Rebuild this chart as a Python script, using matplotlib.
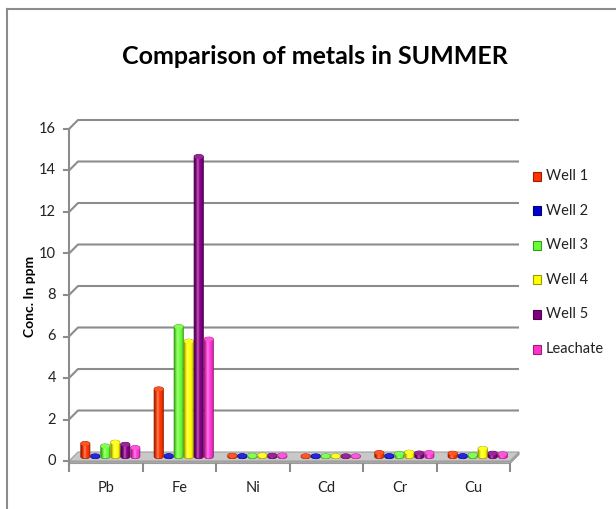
import matplotlib
matplotlib.use("Agg")
import matplotlib.pyplot as plt
import numpy as np
from matplotlib.patches import Polygon, PathPatch, Ellipse, Rectangle
from matplotlib.path import Path
from matplotlib.lines import Line2D
from matplotlib.colors import to_rgb

# metal concentrations (ppm), summer sampling
metals = ["Pb", "Fe", "Ni", "Cd", "Cr", "Cu"]
sites = ["Well 1", "Well 2", "Well 3", "Well 4", "Well 5", "Leachate"]
well1 = [0.62, 3.25, 0.05, 0.02, 0.18, 0.15]
well2 = [0.02, 0.03, 0.03, 0.02, 0.03, 0.03]
well3 = [0.50, 6.25, 0.05, 0.02, 0.13, 0.08]
well4 = [0.68, 5.55, 0.06, 0.02, 0.20, 0.38]
well5 = [0.58, 14.45, 0.05, 0.02, 0.16, 0.15]
leachate = [0.42, 5.65, 0.06, 0.02, 0.18, 0.12]
yticks = [0, 2, 4, 6, 8, 10, 12, 14, 16]

series = [well1, well2, well3, well4, well5, leachate]
colors = ["#ff3300", "#0000cc", "#66ff33", "#ffff00", "#800080", "#ff33cc"]

plt.rcParams["font.family"] = ["Lato", "DejaVu Sans"]

W, H = 616, 509
fig = plt.figure(figsize=(W / 100, H / 100), dpi=100)


def fx(x):
    return x / W


def fy(y):
    return 1 - y / H


# plot area in pixels: left 69, right 519, top 120, floor front at 461
ax = fig.add_axes([fx(69), fy(461), 450 / W, 341 / H])
ax.set_axis_off()

px_x = 450 / (len(metals) + 9 / 73.5)
px_y = 341 / (16 + 9 / 20.75)
dx = 9 / px_x      # depth of the 3d box in data units
dy = 9 / px_y
ncat = len(metals)
grid_c = "#8c8c8c"

# back wall gridlines with the little diagonal from the front axis
for v in yticks[1:]:
    ax.plot([0, dx, ncat + dx], [v, v + dy, v + dy], color=grid_c, lw=1.5,
            clip_on=False, solid_capstyle="butt")

# floor slab
slab = 2.5 / px_y
ax.add_patch(Polygon([[0, 0], [ncat, 0], [ncat + dx, dy], [ncat + dx, dy - slab],
                      [ncat, -slab], [0, -slab]],
                     closed=True, fc="#a8a8a8", ec="#9a9a9a", lw=0.8, clip_on=False,
                     zorder=1.9))
ax.add_patch(Polygon([[0, 0], [ncat, 0], [ncat + dx, dy], [dx, dy]],
                     closed=True, fc="#c8c8c8", ec="#a0a0a0", lw=0.8, clip_on=False,
                     zorder=2))

# front value axis and ticks
ax.plot([0, 0], [-slab, 16], color=grid_c, lw=1.5, clip_on=False)
for v in yticks:
    ax.plot([-5 / px_x, 0], [v, v], color=grid_c, lw=1.5, clip_on=False)
    ax.text(-13 / px_x, v, str(v), ha="right", va="center", fontsize=10.5,
            color="#222222")

# category ticks and labels
for i in range(ncat + 1):
    ax.plot([i, i], [-slab, -slab - 7 / px_y], color=grid_c, lw=1.5, clip_on=False)
for i, m in enumerate(metals):
    ax.text(i + 0.5, -27 / px_y, m, ha="center", va="center", fontsize=10.5,
            color="#222222")


def shaded(rgb, n=32):
    # horizontal cylinder shading: dark rim, bright band left of centre
    t = np.linspace(0, 1, n)
    prof = 0.55 + 0.55 * np.sin(np.pi * t) ** 0.8
    glow = np.exp(-((t - 0.38) / 0.12) ** 2) * 0.35
    base = np.array(rgb)
    img = base[None, :] * prof[:, None]
    img = img + (1 - img) * glow[:, None]
    return np.clip(img, 0, 1)[None, :, :]


bw = 9.4 / px_x
step = 10 / px_x
eh = 4.5 / px_y   # ellipse height of the cylinder caps
ox, oy = dx / 2, dy / 2
for k, vals in enumerate(series):
    rgb = to_rgb(colors[k])
    for i, v in enumerate(vals):
        cx = i + 0.5 + ox + (k - 2.5) * step
        x0, x1 = cx - bw / 2, cx + bw / 2
        y0, y1 = oy, oy + v
        th = np.linspace(np.pi, 2 * np.pi, 20)
        bot = np.column_stack([cx + bw / 2 * np.cos(th), y0 + eh / 2 * np.sin(th)])
        th2 = np.linspace(0, np.pi, 20)
        top = np.column_stack([cx + bw / 2 * np.cos(th2), y1 + eh / 2 * np.sin(th2)])
        verts = np.vstack([bot, top, bot[:1]])
        path = Path(verts)
        clip = PathPatch(path, transform=ax.transData, fc="none", ec="none")
        im = ax.imshow(shaded(rgb), extent=[x0, x1, y0 - eh, y1 + eh],
                       aspect="auto", zorder=3 + k * 0.01, interpolation="bilinear")
        im.set_clip_path(clip)
        ax.add_patch(PathPatch(path, fc="none", ec=tuple(c * 0.6 for c in rgb),
                               lw=0.5, zorder=3.05 + k * 0.01))
        cap = tuple(np.clip(np.array(rgb) * 0.9 + 0.15, 0, 1))
        ax.add_patch(Ellipse((cx, y1), bw * 0.95, eh, fc=cap, ec="none",
                             zorder=3.06 + k * 0.01))

ax.set_xlim(0, ncat + dx)
ax.set_ylim(0, 16 + dy)

# legend
for k, name in enumerate(sites):
    yc = 176 + k * 34.6
    rgb = to_rgb(colors[k])
    fig.add_artist(Rectangle((fx(533), fy(yc + 4.5)), 8 / W, 9 / H,
                             fc=rgb, ec=tuple(c * 0.6 for c in rgb), lw=0.8))
    fig.text(fx(546), fy(yc), name, ha="left", va="center", fontsize=10.5,
             color="#222222")

fig.text(fx(315), fy(56), "Comparison of metals in SUMMER", ha="center",
         va="center", fontsize=18, fontweight="bold", color="black")
fig.text(fx(30), fy(296), "Conc. In ppm", ha="center", va="center", rotation=90,
         fontsize=10, fontweight="bold", color="black")

# chart border (top and left edges)
fig.add_artist(Line2D([fx(7), 1], [fy(9), fy(9)], color="#8c8c8c", lw=1.5))
fig.add_artist(Line2D([fx(7), fx(7)], [fy(9), 0], color="#8c8c8c", lw=1.5))

fig.savefig("out.png", dpi=100)
